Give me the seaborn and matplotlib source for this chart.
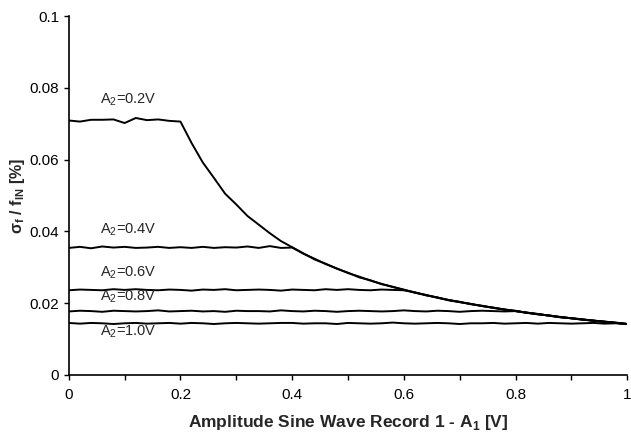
import pandas as pd
import matplotlib
matplotlib.use('Agg')
import matplotlib.pyplot as plt
import seaborn as sns
from matplotlib.ticker import MultipleLocator

sns.set_style('ticks')
plt.rcParams['font.family'] = ['Liberation Sans', 'DejaVu Sans']
plt.rcParams['mathtext.fontset'] = 'custom'
plt.rcParams['mathtext.rm'] = 'Liberation Sans'
plt.rcParams['mathtext.bf'] = 'Liberation Sans:bold'

# ===============================
# Data
# ===============================
a1 = [0.00, 0.02, 0.04, 0.06, 0.08, 0.10, 0.12, 0.14, 0.16, 0.18,
      0.20, 0.22, 0.24, 0.26, 0.28, 0.30, 0.32, 0.34, 0.36, 0.38,
      0.40, 0.42, 0.44, 0.46, 0.48, 0.50, 0.52, 0.54, 0.56, 0.58,
      0.60, 0.62, 0.64, 0.66, 0.68, 0.70, 0.72, 0.74, 0.76, 0.78,
      0.80, 0.82, 0.84, 0.86, 0.88, 0.90, 0.92, 0.94, 0.96, 0.98, 1.00]

a2_02 = [0.0709, 0.0706, 0.0711, 0.0711, 0.0712, 0.0702, 0.0716, 0.0710, 0.0712, 0.0708,
         0.0706, 0.0646, 0.0592, 0.0549, 0.0505, 0.0475, 0.0443, 0.0419, 0.0395, 0.0373,
         0.0356, 0.0339, 0.0322, 0.0310, 0.0296, 0.0285, 0.0272, 0.0264, 0.0253, 0.0246,
         0.0237, 0.0230, 0.0222, 0.0216, 0.0208, 0.0203, 0.0198, 0.0192, 0.0187, 0.0183,
         0.0178, 0.0174, 0.0169, 0.0166, 0.0161, 0.0158, 0.0155, 0.0151, 0.0148, 0.0145, 0.0142]

a2_04 = [0.0354, 0.0357, 0.0353, 0.0358, 0.0355, 0.0357, 0.0354, 0.0355, 0.0357, 0.0354,
         0.0356, 0.0354, 0.0357, 0.0354, 0.0356, 0.0355, 0.0358, 0.0354, 0.0359, 0.0354,
         0.0355, 0.0338, 0.0324, 0.0309, 0.0297, 0.0284, 0.0274, 0.0263, 0.0254, 0.0245,
         0.0238, 0.0229, 0.0223, 0.0215, 0.0209, 0.0204, 0.0197, 0.0193, 0.0187, 0.0182,
         0.0179, 0.0173, 0.0170, 0.0165, 0.0162, 0.0158, 0.0154, 0.0152, 0.0148, 0.0145, 0.0142]

a2_06 = [0.0236, 0.0238, 0.0237, 0.0236, 0.0239, 0.0237, 0.0239, 0.0237, 0.0236, 0.0238,
         0.0237, 0.0235, 0.0238, 0.0237, 0.0239, 0.0236, 0.0237, 0.0238, 0.0237, 0.0235,
         0.0238, 0.0237, 0.0236, 0.0239, 0.0237, 0.0239, 0.0237, 0.0236, 0.0238, 0.0237,
         0.0236, 0.0230, 0.0222, 0.0216, 0.0209, 0.0203, 0.0198, 0.0192, 0.0188, 0.0182,
         0.0178, 0.0174, 0.0169, 0.0166, 0.0161, 0.0158, 0.0154, 0.0151, 0.0149, 0.0145, 0.0142]

a2_08 = [0.0177, 0.0179, 0.0178, 0.0176, 0.0179, 0.0178, 0.0177, 0.0178, 0.0180, 0.0177,
         0.0178, 0.0179, 0.0177, 0.0178, 0.0176, 0.0179, 0.0178, 0.0178, 0.0177, 0.0180,
         0.0178, 0.0177, 0.0179, 0.0178, 0.0176, 0.0178, 0.0179, 0.0178, 0.0177, 0.0178,
         0.0180, 0.0178, 0.0177, 0.0179, 0.0178, 0.0176, 0.0178, 0.0179, 0.0178, 0.0177,
         0.0178, 0.0173, 0.0170, 0.0165, 0.0161, 0.0158, 0.0155, 0.0151, 0.0148, 0.0146, 0.0142]

a2_10 = [0.0145, 0.0143, 0.0145, 0.0144, 0.0142, 0.0144, 0.0145, 0.0143, 0.0144, 0.0145,
         0.0143, 0.0145, 0.0144, 0.0142, 0.0144, 0.0145, 0.0144, 0.0143, 0.0144, 0.0145,
         0.0145, 0.0143, 0.0144, 0.0144, 0.0142, 0.0145, 0.0144, 0.0143, 0.0144, 0.0146,
         0.0144, 0.0143, 0.0144, 0.0145, 0.0144, 0.0142, 0.0144, 0.0144, 0.0145, 0.0143,
         0.0144, 0.0145, 0.0143, 0.0145, 0.0144, 0.0143, 0.0144, 0.0145, 0.0143, 0.0144, 0.0142]

series_names = ['A$_2$=0.2V', 'A$_2$=0.4V', 'A$_2$=0.6V', 'A$_2$=0.8V', 'A$_2$=1.0V']
series_values = [a2_02, a2_04, a2_06, a2_08, a2_10]
label_x = [0.056, 0.056, 0.056, 0.056, 0.056]
label_y = [0.0766, 0.0404, 0.0284, 0.0217, 0.0120]

df = pd.concat(
    [pd.DataFrame({'A1': a1, 'sigma': vals, 'series': name})
     for name, vals in zip(series_names, series_values)],
    ignore_index=True)

# ===============================
# Plot
# ===============================
fig = plt.figure(figsize=(6.31, 4.34), dpi=100)
ax = fig.add_axes([0.109, 0.136, 0.885, 0.827])

sns.lineplot(data=df, x='A1', y='sigma', hue='series', units='series', estimator=None,
             palette=['black'] * 5, linewidth=1.4, legend=False, ax=ax)

for name, tx, ty in zip(series_names, label_x, label_y):
    ax.text(tx, ty, name, fontsize=10.5, ha='left', va='center')

ax.set_xlim(0, 1)
ax.set_ylim(0, 0.1)
ax.xaxis.set_major_locator(MultipleLocator(0.2))
ax.xaxis.set_minor_locator(MultipleLocator(0.1))
ax.yaxis.set_major_locator(MultipleLocator(0.02))
ax.xaxis.set_major_formatter(plt.FuncFormatter(lambda v, p: f'{v:g}'))
ax.yaxis.set_major_formatter(plt.FuncFormatter(lambda v, p: f'{v:g}'))
ax.tick_params(which='both', direction='out', length=3.5, width=1, labelsize=11, colors='black')
ax.tick_params(axis='x', pad=6)

sns.despine(ax=ax)
for s in ['left', 'bottom']:
    ax.spines[s].set_linewidth(1.2)
    ax.spines[s].set_color('black')

ax.set_xlabel('Amplitude Sine Wave Record 1 - A$_\\mathbf{1}$ [V]', fontsize=12.5, fontweight='bold', labelpad=8)
ax.set_ylabel('σ$_\\mathbf{f}$ / f$_\\mathbf{IN}$ [%]', fontsize=11.5, fontweight='bold', labelpad=2)

fig.savefig('out.png', dpi=100)
